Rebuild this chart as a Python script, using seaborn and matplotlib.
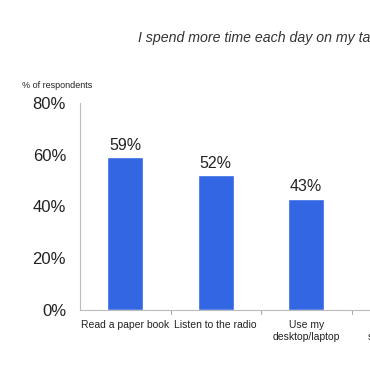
import numpy as np
import pandas as pd
import matplotlib
matplotlib.use("Agg")
import matplotlib.pyplot as plt
import seaborn as sns

# data
categories = ["Read a paper book", "Listen to the radio", "Use my\ndesktop/laptop", "Use my\nsmart phone"]
values = [59, 52, 43, 38]
title = "I spend more time each day on my tablet than I do when I..."

sns.set_style("white")
plt.rcParams['font.family'] = ['Liberation Sans', 'DejaVu Sans']

df = pd.DataFrame({"activity": categories, "pct": values})

fig = plt.figure(figsize=(3.7, 3.88), dpi=100)
# axes runs off the right edge, as in the cropped original
ax = fig.add_axes([80 / 370, 78 / 388, 362 / 370, 207 / 388])

sns.barplot(data=df, x="activity", y="pct", color="#3366e3", width=0.4,
            saturation=1, ax=ax)

ax.set_xlim(-0.5, len(categories) - 0.5)
ax.set_ylim(0, 80)
ax.set_yticks([0, 20, 40, 60, 80])
ax.set_yticklabels([f"{v}%" for v in [0, 20, 40, 60, 80]], fontsize=12, color="#222222")

ax.set_xticks(range(len(categories)))
ax.set_xticklabels(categories, fontsize=7.5, color="#222222", linespacing=1.15)
ax.tick_params(axis="x", length=0, pad=7.5)
ax.tick_params(axis="y", length=4, color="#aaaaaa", width=0.8, pad=6)
# category separator ticks
for xb in np.arange(0.5, len(categories), 1):
    ax.plot([xb, xb], [0, -1.5], color="#aaaaaa", lw=0.8, clip_on=False)

ax.set_xlabel("")
ax.set_ylabel("")
sns.despine(ax=ax)
for s in ["left", "bottom"]:
    ax.spines[s].set_color("#bbbbbb")
    ax.spines[s].set_linewidth(0.8)

for i, v in enumerate(values):
    ax.text(i, v + 1.8, f"{v}%", ha="center", va="bottom", fontsize=11.5, color="#222222")

fig.text(22 / 370, 1 - 85 / 388, "% of respondents", fontsize=6.5, color="#222222", va="center")
fig.text(138 / 370, 1 - 38 / 388, title, fontsize=10.2, style="italic", color="#333333", va="center")

fig.savefig("out.png", dpi=100)
